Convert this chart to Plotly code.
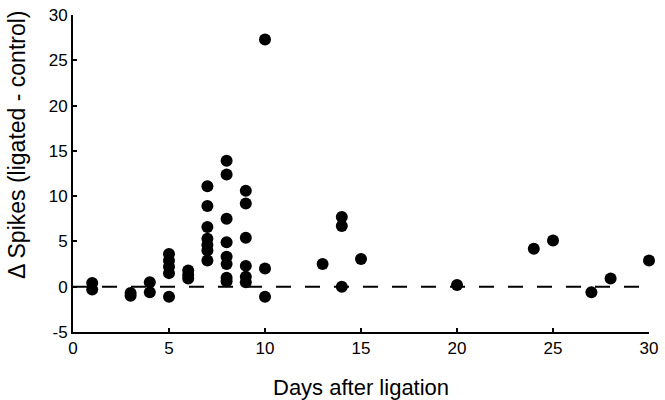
import plotly.graph_objects as go

# Data (days after ligation, delta spikes)
days = [1, 1,
        3, 3,
        4, 4,
        5, 5, 5, 5, 5,
        6, 6, 6,
        7, 7, 7, 7, 7, 7, 7,
        8, 8, 8, 8, 8, 8, 8, 8,
        9, 9, 9, 9, 9, 9,
        10, 10, 10,
        13,
        14, 14, 14,
        15,
        20,
        24,
        25,
        27,
        28,
        30]
delta_spikes = [0.4, -0.3,
                -0.7, -1.0,
                0.5, -0.6,
                3.6, 2.9, 2.2, 1.5, -1.1,
                1.8, 1.3, 0.9,
                11.1, 8.9, 6.6, 5.3, 4.6, 4.0, 2.9,
                13.9, 12.4, 7.5, 4.9, 3.3, 2.5, 1.0, 0.6,
                10.6, 9.2, 5.4, 2.3, 1.1, 0.5,
                27.3, 2.0, -1.1,
                2.5,
                7.7, 6.7, 0.0,
                3.05,
                0.2,
                4.2,
                5.1,
                -0.6,
                0.9,
                2.9]

ref_x = [0, 30]
ref_y = [0, 0]

x_ticks = [0, 5, 10, 15, 20, 25, 30]
y_ticks = [-5, 0, 5, 10, 15, 20, 25, 30]

x_title = "Days after ligation"
y_title = "Δ Spikes (ligated - control)"

fig = go.Figure()
fig.add_trace(go.Scatter(
    x=ref_x, y=ref_y, mode="lines",
    line=dict(color="black", width=2, dash="15px,14px"),
    hoverinfo="skip", showlegend=False))
fig.add_trace(go.Scatter(
    x=days, y=delta_spikes, mode="markers",
    marker=dict(color="black", size=12, line=dict(width=0)),
    showlegend=False, cliponaxis=False))

font_family = "Liberation Sans, Arial, Helvetica, sans-serif"
fig.update_layout(
    width=665, height=400,
    margin=dict(l=73, r=16, t=15, b=68, autoexpand=False),
    paper_bgcolor="white", plot_bgcolor="white",
    font=dict(family=font_family, color="black", size=17),
    xaxis=dict(
        range=[0, 30], tickvals=x_ticks, ticktext=[str(v) for v in x_ticks],
        showgrid=False, zeroline=False, showline=True, linecolor="black", linewidth=2,
        ticks="inside", ticklen=4, tickwidth=1.5, tickcolor="black",
        automargin=False, fixedrange=True),
    yaxis=dict(
        range=[-5, 30], tickvals=y_ticks, ticktext=[str(v) for v in y_ticks],
        showgrid=False, zeroline=False, showline=True, linecolor="black", linewidth=2,
        ticks="inside", ticklen=4, tickwidth=1.5, tickcolor="black",
        automargin=False, fixedrange=True),
    annotations=[
        dict(text=y_title, xref="paper", yref="paper", x=0, y=0.59,
             xanchor="center", yanchor="middle", xshift=-56, textangle=-90,
             showarrow=False, font=dict(size=23)),
        dict(text=x_title, xref="paper", yref="paper", x=0.5, y=0,
             xanchor="center", yanchor="middle", yshift=-55,
             showarrow=False, font=dict(size=22)),
    ],
)

fig.write_html("out.html", config={"displayModeBar": False},
               post_script="document.body.style.margin='0';")
